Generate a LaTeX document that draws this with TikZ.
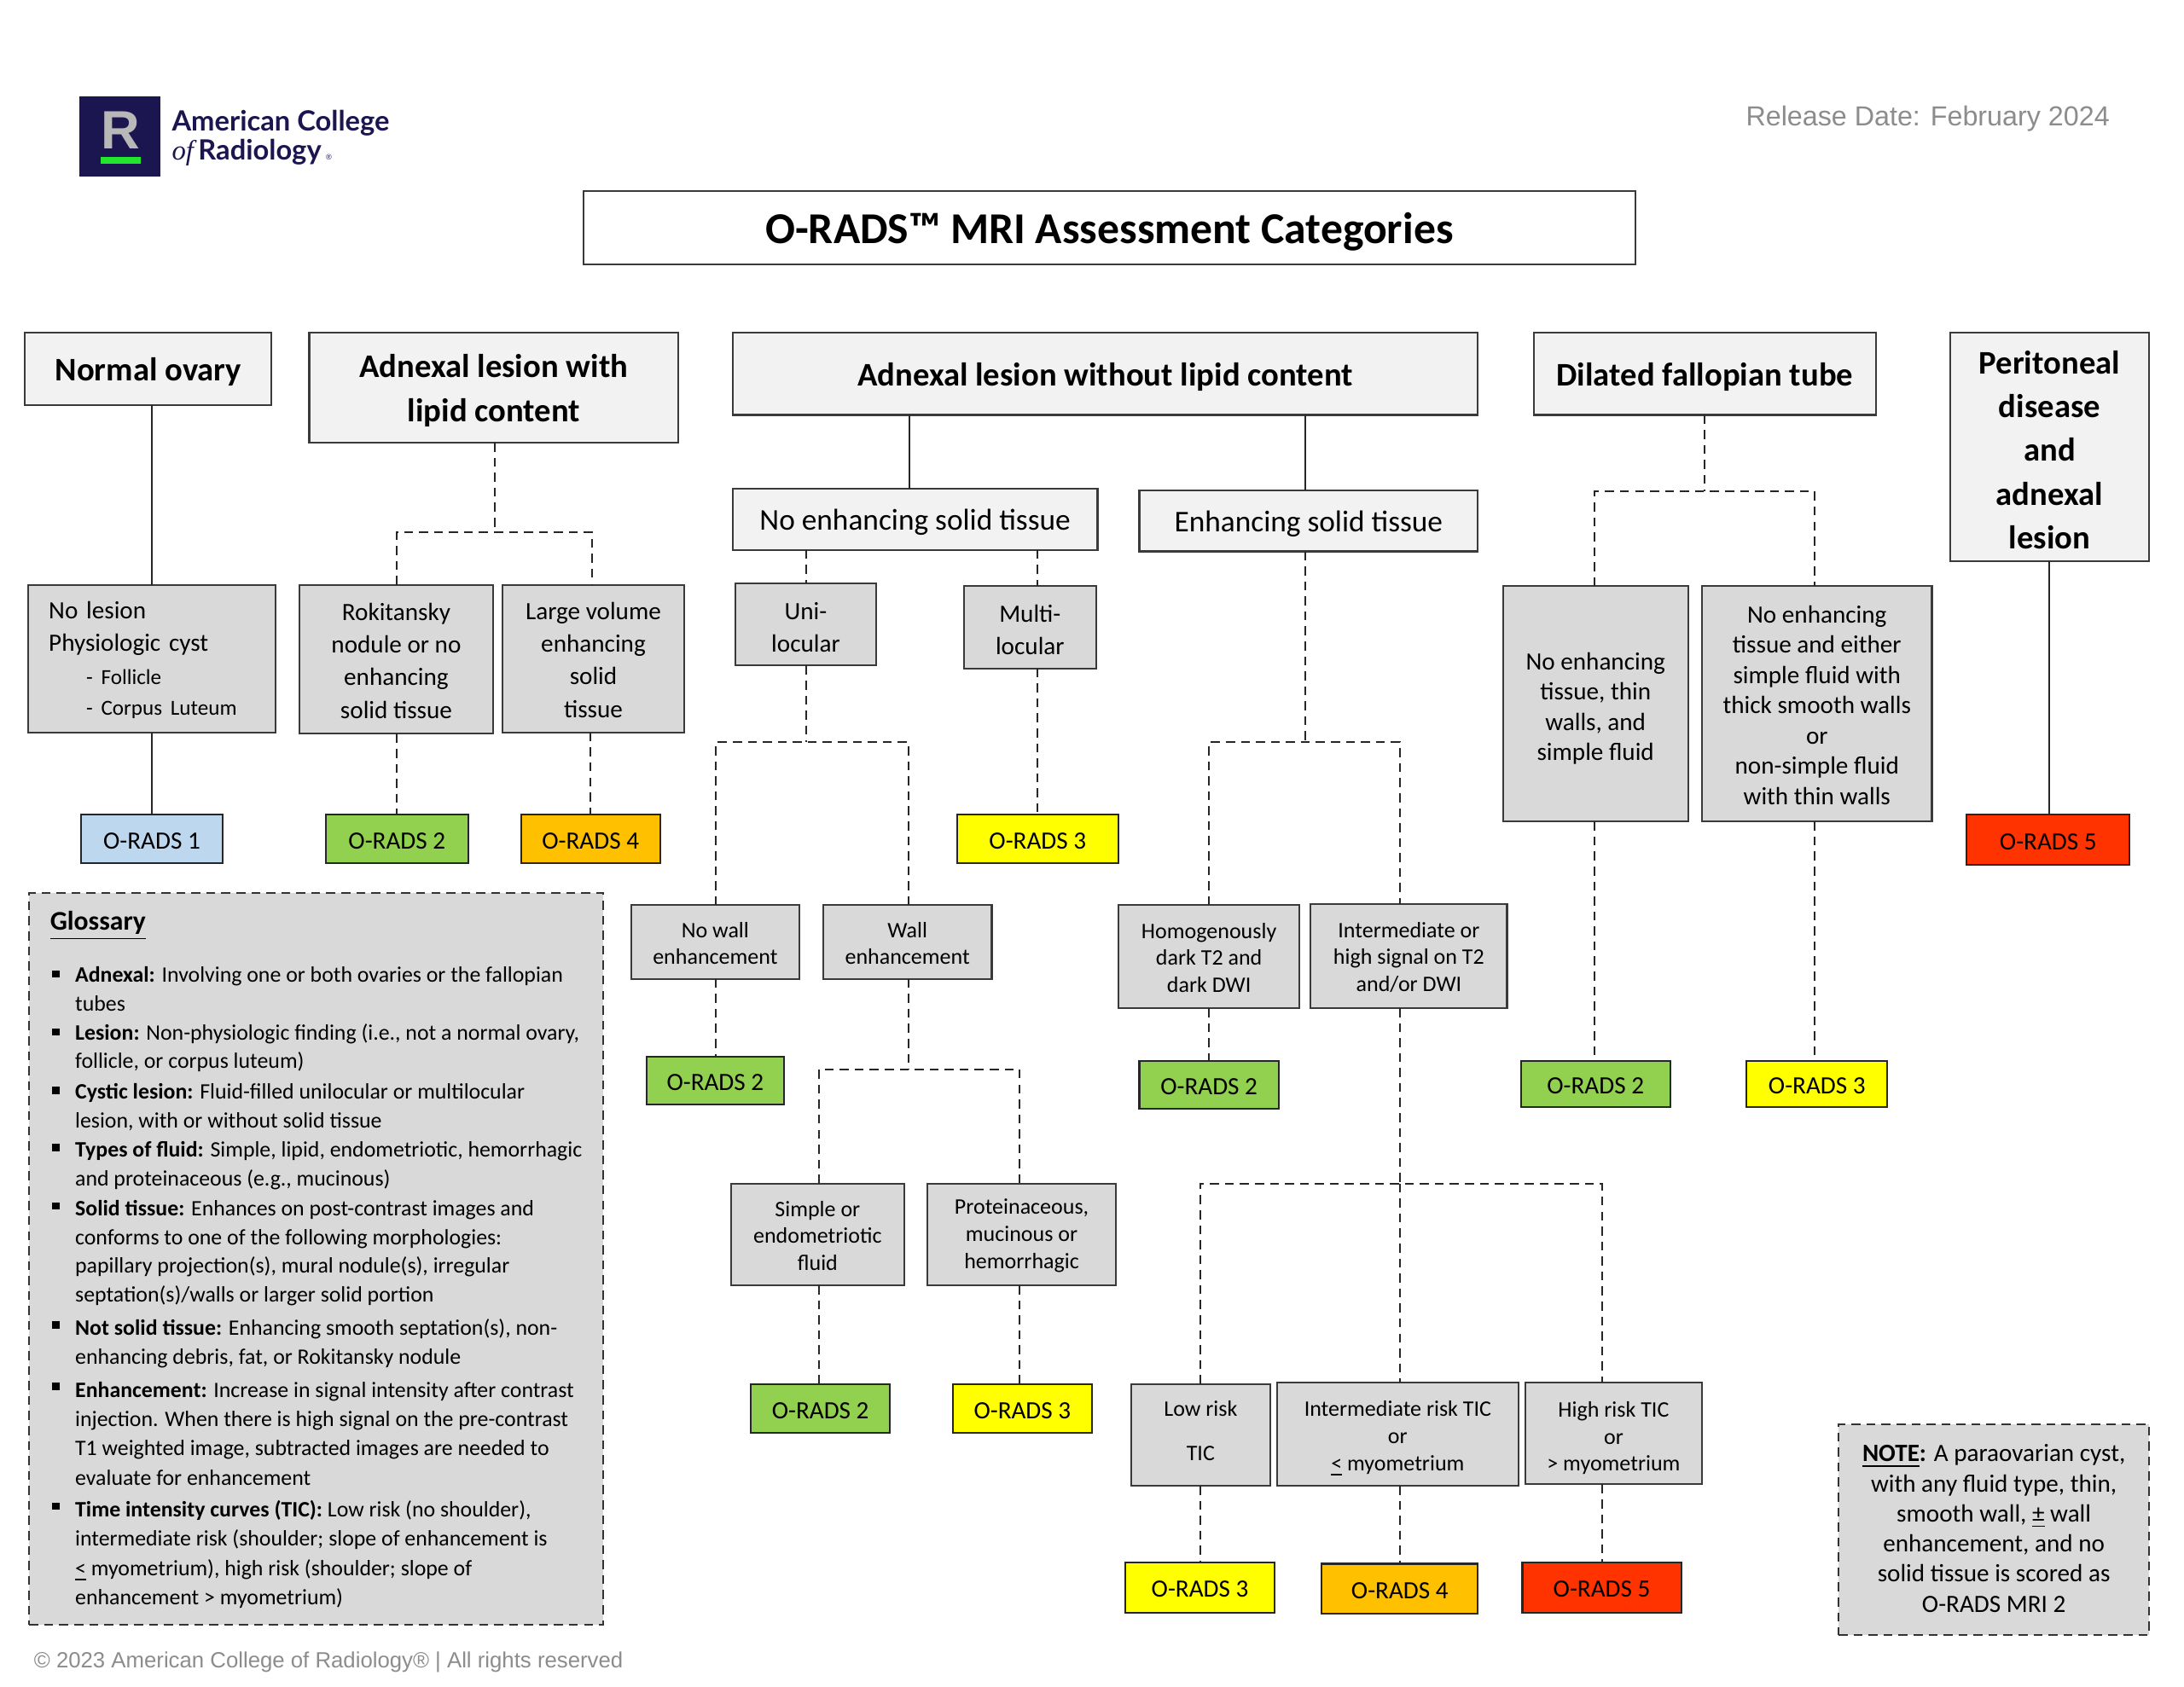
\documentclass[tikz,border=0pt]{standalone}
\usepackage{fontspec}
\setmainfont{Carlito}
\newfontfamily\arialfont{Liberation Sans}
\newfontfamily\logofont{Lato}
\newfontfamily\logoserif{Liberation Serif}
\definecolor{headfill}{HTML}{F2F2F2}
\definecolor{boxfill}{HTML}{D9D9D9}
\definecolor{boxline}{HTML}{3A3A3A}
\definecolor{radsblue}{HTML}{BDD7EE}
\definecolor{radsgreen}{HTML}{92D050}
\definecolor{radsyellow}{HTML}{FFFF00}
\definecolor{radsamber}{HTML}{FFC000}
\definecolor{radsred}{HTML}{FF3300}
\definecolor{logonavy}{HTML}{1B1650}
\definecolor{logogreen}{HTML}{22E52E}
\definecolor{stampgrey}{HTML}{8C8C8C}
\newcommand{\bodyfont}{\fontsize{8.3}{10.9}\selectfont}
\newcommand{\smallfont}{\fontsize{7.4}{9.0}\selectfont}
\newcommand{\subfont}{\fontsize{7.15}{9.0}\selectfont}
\newcommand{\topgap}{.8}
\newcommand{\flowbox}[7]{\node[#1,minimum width={(#5-#3)*0.4645pt},minimum height={(#6-#4)*0.4645pt}] (#2) at ({(#3+#5)/2},{(#4+#6)/2}) {\rule{0pt}{\topgap em}#7};}
\tikzset{
  basebox/.style={draw=boxline,line width=0.6pt,inner sep=0pt,outer sep=0pt,align=center},
  titlebox/.style={basebox,fill=white,font=\def\topgap{.9}\fontsize{14.7}{18}\selectfont\bfseries},
  headbox/.style={basebox,fill=headfill,font=\def\topgap{.87}\fontsize{11}{14.6}\selectfont\bfseries},
  subhead/.style={basebox,fill=headfill,font=\def\topgap{.88}\fontsize{10.05}{12}\selectfont},
  greybox/.style={basebox,fill=boxfill,font=\bodyfont},
  tinybox/.style={basebox,fill=boxfill,font=\smallfont},
  radsbox/.style={basebox,draw=black!85,fill=#1,font=\bodyfont},
  gapbox/.style={basebox,draw=black!80,fill=boxfill,dash pattern=on 3pt off 2pt},
  plainline/.style={draw=black!85,line width=0.55pt},
  dashline/.style={draw=black!85,line width=0.55pt,dash pattern=on 3pt off 2pt},
  glossline/.style={anchor=base west,inner sep=0pt,outer sep=0pt,font=\fontsize{7.35}{9}\selectfont},
  stamp/.style={inner sep=0pt,text=stampgrey,font=\arialfont}
}
\begin{document}
\begin{tikzpicture}[x=0.016327cm,y=-0.016327cm]
  \useasboundingbox (0,0) rectangle (1568,1211.5);
  % logo
  \node[fill=logonavy,minimum width=26.9pt,minimum height=26.9pt,inner sep=0pt] (logo) at (86,98) {};
  \node[inner sep=0pt,text=black!28,font=\arialfont\bfseries\fontsize{18}{18}\selectfont] (logoR) at (86.5,93.5) {R};
  \node[fill=logogreen,minimum width=13.4pt,minimum height=2.3pt,inner sep=0pt] (logobar) at (86.5,115) {};
  \node[anchor=west,inner sep=0pt,align=left,text=logonavy,font=\logofont\bfseries\fontsize{9.3}{9.75}\selectfont] (acr) at (123,99) {American College\\{\logoserif\itshape\mdseries of}\,Radiology\,{\arialfont\mdseries\fontsize{2.6}{3}\selectfont ®}};
  \node[stamp,anchor=east,font=\arialfont\fontsize{9.18}{12}\selectfont] (release) at (1515,85) {Release Date: February 2024};
  \node[stamp,anchor=west,font=\arialfont\fontsize{7.33}{10}\selectfont] (copyright) at (24,1193.5) {© 2023 American College of Radiology® | All rights reserved};
  % headers
  \flowbox{titlebox}{title}{419}{137}{1174}{190}{O-RADS™ MRI Assessment Categories}
  \flowbox{headbox}{normal}{18}{239}{195}{291}{Normal ovary}
  \flowbox{headbox}{lipid}{222}{239}{487}{318}{Adnexal lesion with\\lipid content}
  \flowbox{headbox}{nolipid}{526}{239}{1061}{298}{Adnexal lesion without lipid content}
  \flowbox{headbox}{tube}{1101}{239}{1347}{298}{Dilated fallopian tube}
  \flowbox{headbox}{perit}{1400}{239}{1543}{403}{Peritoneal\\disease\\and\\adnexal\\lesion}
  \flowbox{subhead}{nosolid}{526}{351}{788}{395}{No enhancing solid tissue}
  \flowbox{subhead}{solid}{818}{352}{1061}{396}{Enhancing solid tissue}
  % first row
  \flowbox{greybox,text width=68.7pt,align=left}{nolesion}{20}{420}{198}{526}{No lesion\\Physiologic cyst\\{\subfont\hspace*{12.5pt}- Follicle}\\[-0.6pt]{\subfont\hspace*{12.5pt}- Corpus Luteum}}
  \flowbox{greybox}{rok}{215}{420}{354}{527}{Rokitansky\\nodule or no\\enhancing\\solid tissue}
  \flowbox{greybox}{large}{361}{420}{491}{526}{Large volume\\enhancing\\solid\\tissue}
  \flowbox{greybox}{uni}{528}{419}{629}{478}{\rule{0pt}{.9em}Uni-\\locular}
  \flowbox{greybox}{multi}{692}{421}{787}{480}{\rule{0pt}{.9em}Multi-\\locular}
  \flowbox{greybox,font=\fontsize{8.3}{10.1}\selectfont}{tubeA}{1079}{421}{1212}{590}{\rule{0pt}{1.05em}No enhancing\\tissue, thin\\walls, and\\simple fluid}
  \flowbox{greybox,font=\fontsize{8.3}{10.1}\selectfont}{tubeB}{1222}{421}{1387}{590}{No enhancing\\tissue and either\\simple fluid with\\thick smooth walls\\or\\non-simple fluid\\with thin walls}
  % second row
  \flowbox{tinybox}{nowall}{453}{650}{574}{703}{No wall\\enhancement}
  \flowbox{tinybox}{wall}{591}{650}{712}{703}{Wall\\enhancement}
  \flowbox{tinybox}{homog}{803}{650}{933}{724}{Homogenously\\dark T2 and\\dark DWI}
  \flowbox{tinybox}{inter}{941}{649}{1082}{724}{Intermediate or\\high signal on T2\\and/or DWI}
  \flowbox{tinybox}{simple}{525}{850}{649}{923}{Simple or\\endometriotic\\fluid}
  \flowbox{tinybox}{prot}{666}{850}{801}{923}{Proteinaceous,\\mucinous or\\hemorrhagic}
  \flowbox{tinybox}{low}{812}{994}{912}{1067}{Low risk\\[6pt]TIC\rule[-3.7pt]{0pt}{0pt}}
  \flowbox{tinybox}{midtic}{917}{993}{1090}{1067}{\rule{0pt}{1.11em}Intermediate risk TIC\\or\\\underline{<} myometrium}
  \flowbox{tinybox}{hightic}{1095}{993}{1222}{1066}{\rule{0pt}{1.11em}High risk TIC\\or\\> myometrium}
  % scores
  \flowbox{radsbox=radsblue}{radsA}{58}{585}{160}{620}{O-RADS 1}
  \flowbox{radsbox=radsgreen}{radsB}{234}{585}{336}{620}{O-RADS 2}
  \flowbox{radsbox=radsamber}{radsC}{374}{585}{474}{620}{O-RADS 4}
  \flowbox{radsbox=radsyellow}{radsD}{687}{585}{803}{620}{O-RADS 3}
  \flowbox{radsbox=radsred}{radsE}{1412}{585}{1529}{621}{O-RADS 5}
  \flowbox{radsbox=radsgreen}{radsF}{464}{759}{563}{793}{O-RADS 2}
  \flowbox{radsbox=radsgreen}{radsG}{818}{762}{918}{796}{O-RADS 2}
  \flowbox{radsbox=radsgreen}{radsH}{1092}{762}{1199}{795}{O-RADS 2}
  \flowbox{radsbox=radsyellow}{radsI}{1254}{762}{1355}{795}{O-RADS 3}
  \flowbox{radsbox=radsgreen}{radsJ}{539}{994}{639}{1029}{O-RADS 2}
  \flowbox{radsbox=radsyellow}{radsK}{684}{994}{784}{1029}{O-RADS 3}
  \flowbox{radsbox=radsyellow}{radsL}{808}{1122}{915}{1158}{O-RADS 3}
  \flowbox{radsbox=radsamber}{radsM}{949}{1123}{1061}{1159}{O-RADS 4}
  \flowbox{radsbox=radsred}{radsN}{1093}{1122}{1207}{1158}{O-RADS 5}
  % straight connectors
  \foreach \x/\a/\b in {109/normal/nolesion,109/nolesion/radsA,653/nolipid/nosolid,937/nolipid/solid,1471/perit/radsE}
    \draw[plainline] (\x,0 |- \a.south) -- (\x,0 |- \b.north);
  \foreach \x/\a/\b in {285/rok/radsB,424/large/radsC,579/nosolid/uni,745/nosolid/multi,745/multi/radsD,514/nowall/radsF,868/homog/radsG,588/simple/radsJ,732/prot/radsK,862/low/radsL,1005/midtic/radsM,1150/hightic/radsN,1145/tubeA/radsH,1303/tubeB/radsI}
    \draw[dashline] (\x,0 |- \a.south) -- (\x,0 |- \b.north);
  % branches
  \coordinate (lipidL) at (285,382);
  \coordinate (lipidR) at (425,382);
  \coordinate (uniL) at (514,533);
  \coordinate (uniR) at (652.3,533);
  \coordinate (solidL) at (868,533);
  \coordinate (solidR) at (1005,533);
  \coordinate (wallL) at (588,768);
  \coordinate (wallR) at (732,768);
  \coordinate (ticL) at (862,850);
  \coordinate (ticR) at (1150,850);
  \coordinate (tubeL) at (1145,353);
  \coordinate (tubeR) at (1303,353);
  \foreach \x/\y/\a in {355/382/lipid,579/533/uni,937/533/solid,652.3/768/wall,1005/850/inter,1224/353/tube}
    \draw[dashline] (\x,0 |- \a.south) -- (\x,\y);
  \foreach \l/\r/\a/\b in {lipidL/lipidR/rok/large,uniL/uniR/nowall/wall,solidL/solidR/homog/inter,wallL/wallR/simple/prot,tubeL/tubeR/tubeA/tubeB}
    \draw[dashline] (\l |- \a.north) -- (\l) -- (\r) -- (\r |- \b.north);
  \draw[dashline] (ticL |- low.north) -- (ticL) -- (ticR) -- (ticR |- hightic.north);
  \draw[dashline] (1005,850) -- (1005,0 |- midtic.north);
  % glossary
  \flowbox{gapbox}{gloss}{21}{641}{433}{1167}{}
  \node[glossline,font=\fontsize{9}{11}\selectfont\bfseries] (glosshead) at (36,668) {\underline{Glossary}};
  \foreach \n/\y/\t in {
    a/700/{\textbf{Adnexal:} Involving one or both ovaries or the fallopian},
    b/720.5/{tubes},
    c/741.5/{\textbf{Lesion:} Non-physiologic finding (i.e., not a normal ovary,},
    d/762/{follicle, or corpus luteum)},
    e/783.5/{\textbf{Cystic lesion:} Fluid-filled unilocular or multilocular},
    f/804.5/{lesion, with or without solid tissue},
    g/825.5/{\textbf{Types of fluid:} Simple, lipid, endometriotic, hemorrhagic},
    h/846/{and proteinaceous (e.g., mucinous)},
    i/867.5/{\textbf{Solid tissue:} Enhances on post-contrast images and},
    j/888.5/{conforms to one of the following morphologies:},
    k/909/{papillary projection(s), mural nodule(s), irregular},
    l/929.5/{septation(s)/walls or larger solid portion},
    m/953.5/{\textbf{Not solid tissue:} Enhancing smooth septation(s), non-},
    n/974.5/{enhancing debris, fat, or Rokitansky nodule},
    o/998/{\textbf{Enhancement:} Increase in signal intensity after contrast},
    p/1019/{injection. When there is high signal on the pre-contrast},
    q/1040/{T1 weighted image, subtracted images are needed to},
    r/1061/{evaluate for enhancement},
    s/1084/{\textbf{Time intensity curves (TIC):} Low risk (no shoulder),},
    t/1105/{intermediate risk (shoulder; slope of enhancement is},
    u/1126/{\underline{<} myometrium), high risk (shoulder; slope of},
    v/1147/{enhancement > myometrium)}}
    \node[glossline] (gloss\n) at (54,{\y+5.4}) {\t};
  \foreach \n/\y in {a/699.5,c/741,e/783,g/824,i/866,m/951.5,o/995.5,s/1081.5}
    \node[fill=black,inner sep=0pt,minimum size=2.4pt] (mark\n) at (40,\y) {};
  % note
  \flowbox{gapbox,font=\fontsize{8.3}{10.05}\selectfont}{note}{1320}{1023}{1543}{1174}{\underline{\textbf{NOTE}}\textbf{:} A paraovarian cyst,\\with any fluid type, thin,\\smooth wall, \underline{±} wall\\enhancement, and no\\solid tissue is scored as\\O-RADS MRI 2\rule[-1.8pt]{0pt}{0pt}}
\end{tikzpicture}
\end{document}
